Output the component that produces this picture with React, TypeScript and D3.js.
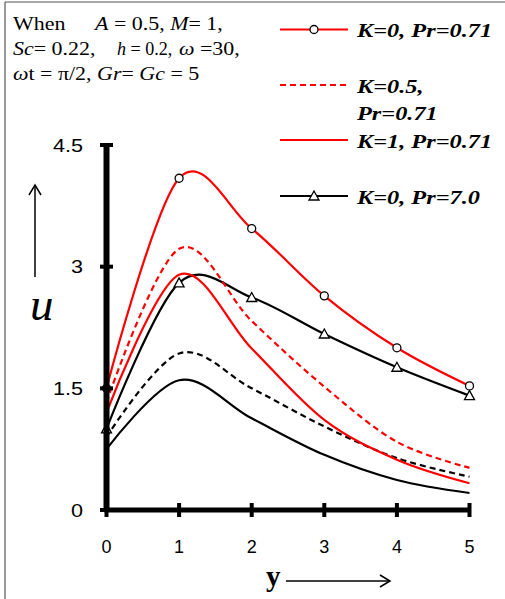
import React from "react";
import * as d3 from "d3";

const yVals = [0, 1, 2, 3, 4, 5];
const redCircle = [1.5, 4.09, 3.47, 2.64, 2.0, 1.53];
const redDashed = [1.33, 3.22, 2.33, 1.52, 0.84, 0.52];
const redSolid = [1.2, 2.9, 1.99, 1.11, 0.62, 0.33];
const blackTriangle = [1.0, 2.8, 2.62, 2.17, 1.76, 1.41];
const blackDashed = [0.9, 1.93, 1.5, 1.03, 0.64, 0.41];
const blackSolid = [0.75, 1.6, 1.13, 0.68, 0.37, 0.21];
const yTicks = [0, 1.5, 3, 4.5];
const xTicks = [0, 1, 2, 3, 4, 5];
const legendLabels = ["K=0, Pr=0.71", "K=0.5,", "Pr=0.71", "K=1, Pr=0.71", "K=0, Pr=7.0"];

const W = 505;
const H = 599;

const serif = "'Liberation Serif', 'Times New Roman', serif";
const sans = "'Liberation Sans', Arial, sans-serif";

function SText(props: {
  x: number;
  y: number;
  sx?: number;
  size: number;
  family: string;
  weight?: string;
  italic?: boolean;
  anchor?: string;
  children: React.ReactNode;
}) {
  const { x, y, sx = 1, size, family, weight, italic, anchor, children } = props;
  return (
    <text
      transform={`translate(${x},${y}) scale(${sx},1)`}
      fontFamily={family}
      fontSize={size}
      fontWeight={weight}
      fontStyle={italic ? "italic" : undefined}
      textAnchor={anchor}
      fill="#000"
    >
      {children}
    </text>
  );
}

export default function App() {
  const x = d3.scaleLinear().domain([0, 5]).range([106.5, 469.5]);
  const y = d3.scaleLinear().domain([0, 4.5]).range([510, 145]);
  const line = d3
    .line<number>()
    .x((_, i) => x(yVals[i]))
    .y((d) => y(d))
    .curve(d3.curveCardinal.tension(0));

  const series = [
    { data: blackSolid, color: "#000", dash: undefined, marker: null },
    { data: blackDashed, color: "#000", dash: "6,4", marker: null },
    { data: blackTriangle, color: "#000", dash: undefined, marker: "tri" },
    { data: redSolid, color: "#ff0000", dash: undefined, marker: null },
    { data: redDashed, color: "#ff0000", dash: "6,4", marker: null },
    { data: redCircle, color: "#ff0000", dash: undefined, marker: "circ" },
  ];

  const tri = (cx: number, cy: number) =>
    `M${cx},${cy - 5} L${cx + 5},${cy + 4} L${cx - 5},${cy + 4} Z`;

  const I = (s: string) => <tspan fontStyle="italic">{s}</tspan>;
  const aS = 1.22;
  const lS = 1.28;

  return (
    <div style={{ position: "fixed", left: 0, top: 0 }}>
      <svg width={W} height={H} style={{ display: "block", background: "#fff" }}>
        {/* frame */}
        <line x1={5} y1={2} x2={W} y2={2} stroke="#555" strokeWidth={1.2} />
        <line x1={5} y1={2} x2={5} y2={H} stroke="#555" strokeWidth={1.2} />

        {/* annotation */}
        <SText x={13} y={30} sx={aS} size={18} family={serif}>When</SText>
        <SText x={95} y={30} sx={aS} size={18} family={serif}>
          {I("A")} = 0.5, {I("M")}= 1,
        </SText>
        <SText x={13} y={55} sx={aS} size={18} family={serif}>
          {I("Sc")}= 0.22,
        </SText>
        <SText x={117} y={55} sx={1.0} size={18} family={serif}>
          {I("h")} = 0.2,
        </SText>
        <SText x={179} y={55} sx={aS} size={18} family={serif}>
          {I("ω")} =30,
        </SText>
        <SText x={13} y={80} sx={aS} size={18} family={serif}>
          {I("ω")}t = π/2, {I("Gr")}= {I("Gc")} = 5
        </SText>

        {/* legend */}
        <g>
          <line x1={280} y1={29.5} x2={348} y2={29.5} stroke="#ff0000" strokeWidth={2.2} />
          <circle cx={314} cy={29.5} r={4} fill="#fff" stroke="#000" strokeWidth={1.3} />
          <line x1={280} y1={85} x2={348} y2={85} stroke="#ff0000" strokeWidth={2.2} strokeDasharray="6,4" />
          <line x1={280} y1={140} x2={348} y2={140} stroke="#ff0000" strokeWidth={2.2} />
          <line x1={280} y1={196} x2={348} y2={196} stroke="#000" strokeWidth={2.2} />
          <path d={tri(314, 196)} fill="#fff" stroke="#000" strokeWidth={1.3} />
          {[
            [legendLabels[0], 37],
            [legendLabels[1], 93],
            [legendLabels[2], 120],
            [legendLabels[3], 148],
            [legendLabels[4], 204],
          ].map(([t, yy]) => (
            <SText key={String(t) + yy} x={357} y={Number(yy)} sx={lS} size={19} family={serif} weight="bold" italic>
              {t}
            </SText>
          ))}
        </g>

        {/* curves */}
        {series.map((s, i) => (
          <path
            key={i}
            d={line(s.data) || ""}
            fill="none"
            stroke={s.color}
            strokeWidth={2.2}
            strokeDasharray={s.dash}
          />
        ))}

        {/* markers */}
        {series.map((s, i) =>
          s.marker
            ? s.data.map((d, j) =>
                s.marker === "circ" ? (
                  <circle key={i + "-" + j} cx={x(yVals[j])} cy={y(d)} r={4} fill="#fff" stroke="#000" strokeWidth={1.3} />
                ) : (
                  <path key={i + "-" + j} d={tri(x(yVals[j]), y(d))} fill="#fff" stroke="#000" strokeWidth={1.3} />
                )
              )
            : null
        )}

        {/* axes */}
        <line x1={x(0)} y1={y(4.5)} x2={x(0)} y2={y(0) + 2} stroke="#000" strokeWidth={6} />
        <line x1={x(0) - 2} y1={y(0)} x2={x(5)} y2={y(0)} stroke="#000" strokeWidth={5} />
        {yTicks.map((t) => (
          <g key={"yt" + t}>
            <line x1={x(0) - 6.5} y1={y(t)} x2={x(0) + 6.5} y2={y(t)} stroke="#000" strokeWidth={4} />
            <SText x={83} y={y(t) + 6.5} sx={1.2} size={18} family={sans} anchor="end">
              {String(t)}
            </SText>
          </g>
        ))}
        {xTicks.map((t) => (
          <g key={"xt" + t}>
            <line x1={x(t)} y1={y(0) - 7} x2={x(t)} y2={y(0) + 7} stroke="#000" strokeWidth={4} />
            <SText x={x(t)} y={552.5} size={18} family={sans} anchor="middle">
              {String(t)}
            </SText>
          </g>
        ))}

        {/* y axis label */}
        <line x1={35} y1={277} x2={35} y2={187} stroke="#000" strokeWidth={1.5} />
        <path d="M29,195 L35,185 L41,195" fill="none" stroke="#000" strokeWidth={1.5} />
        <SText x={30} y={320} size={47} family={serif} italic>
          u
        </SText>

        {/* x axis label */}
        <SText x={266} y={585.5} size={29} family={serif} weight="bold">
          y
        </SText>
        <line x1={286} y1={581} x2={389} y2={581} stroke="#000" strokeWidth={1.5} />
        <path d="M380,575 L390,581 L380,587" fill="none" stroke="#000" strokeWidth={1.5} />
      </svg>
    </div>
  );
}
